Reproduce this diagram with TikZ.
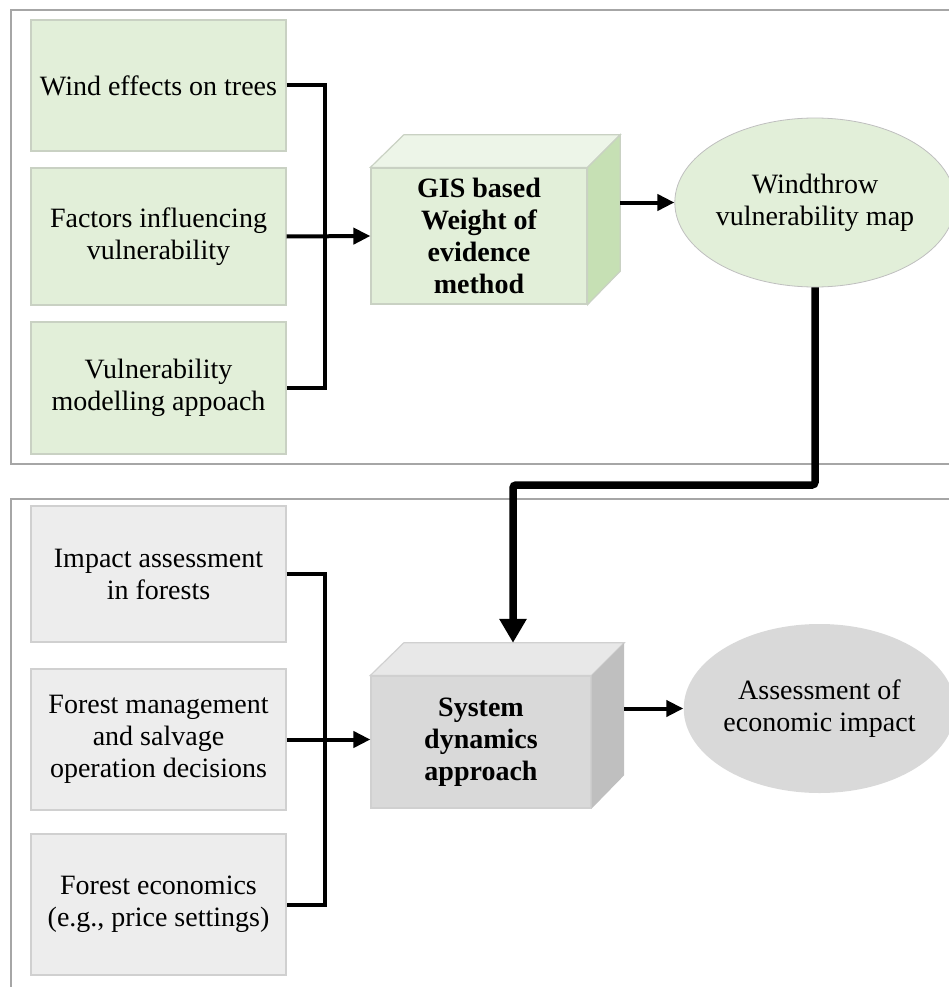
\documentclass[tikz,border=0pt]{standalone}
\usepackage{fontspec}
\setmainfont{Liberation Serif}
\usetikzlibrary{arrows.meta,shapes.geometric}

\definecolor{gfill}{HTML}{E2EFD9}
\definecolor{gtop}{HTML}{EDF5E8}
\definecolor{gside}{HTML}{C6E0B4}
\definecolor{gline}{HTML}{C9D1C3}
\definecolor{kfill}{HTML}{EDEDED}
\definecolor{kfront}{HTML}{D9D9D9}
\definecolor{ktop}{HTML}{E8E8E8}
\definecolor{kside}{HTML}{BFBFBF}
\definecolor{kline}{HTML}{D0D0D0}
\definecolor{framegray}{HTML}{A6A6A6}

\begin{document}
\begin{tikzpicture}[x=1pt,y=-1pt,
  txt/.style={font=\fontsize{28}{32}\selectfont, align=center},
  inbox/.style={txt, rectangle, draw, line width=1.2pt, inner sep=0pt, minimum width=255pt},
  greenbox/.style={inbox, fill=gfill, draw=gline},
  graybox/.style={inbox, fill=kfill, draw=kline},
  cubeface/.style={txt, rectangle, draw, line width=1.2pt, inner sep=0pt, font=\fontsize{28}{32}\selectfont\bfseries},
  cubeback/.style={rectangle, inner sep=0pt},
  blob/.style={txt, ellipse, inner sep=0pt, line width=0.8pt},
  link/.style={line width=4pt},
  flow/.style={line width=4pt, -{Triangle[length=17pt,width=16pt]}},
  bigflow/.style={line width=7.5pt, rounded corners=3pt, -{Triangle[length=24pt,width=26pt]}},
  frame/.style={draw=framegray, line width=1.5pt}]
\useasboundingbox (0,0) rectangle (949,987);

% section frames
\draw[frame] (949,10) -- (11,10) -- (11,464) -- (949,464);
\draw[frame] (949,499) -- (11,499) -- (11,987);

% upper section: inputs
\node[greenbox, minimum height=131pt] (w1) at (158.5,85.5) {Wind effects on trees};
\node[greenbox, minimum height=137pt] (w2) at (158.5,236.5) {Factors influencing\\vulnerability};
\node[greenbox, minimum height=132pt] (w3) at (158.5,388) {Vulnerability\\modelling appoach};

% upper section: method cube
\node[cubeback, minimum width=216pt, minimum height=136pt] (gisb) at (512,203) {};
\node[cubeface, fill=gfill, draw=gline, minimum width=216pt, minimum height=136pt] (gis) at (479,236)
  {GIS based\\Weight of\\evidence\\method};
\filldraw[fill=gtop, draw=gline, line width=1.2pt] (gis.north west) -- (gisb.north west) -- (gisb.north east) -- (gis.north east) -- cycle;
\filldraw[fill=gside, draw=gline, line width=1.2pt] (gis.north east) -- (gisb.north east) -- (gisb.south east) -- (gis.south east) -- cycle;

\node[blob, fill=gfill, draw=kside, minimum width=254pt, minimum height=169pt] (wt) at (815,202.5)
  {Windthrow\\vulnerability map};

% lower section: inputs
\node[graybox, minimum height=136pt] (i1) at (158.5,574) {Impact assessment\\in forests};
\node[graybox, minimum height=141pt] (i2) at (158.5,739.5) {Forest management\\and salvage\\operation decisions};
\node[graybox, minimum height=141pt] (i3) at (158.5,904.5) {Forest economics\\(e.g., price settings)};

% lower section: model cube
\node[cubeback, minimum width=220pt, minimum height=132pt] (sysb) at (514,709) {};
\node[cubeface, fill=kfront, draw=kline, minimum width=220pt, minimum height=132pt] (sys) at (481,742)
  {System\\dynamics\\approach};
\filldraw[fill=ktop, draw=kline, line width=1.2pt] (sys.north west) -- (sysb.north west) -- (sysb.north east) -- (sys.north east) -- cycle;
\fill[kside] (sys.north east) -- (sysb.north east) -- (sysb.south east) -- (sys.south east) -- cycle;

\node[blob, fill=kfront, minimum width=263pt, minimum height=169pt] (as) at (819.5,708.5)
  {Assessment of\\economic impact};

% upper connectors
\coordinate (jt) at (325,86);
\draw[link] (w1.east) -- (w1.east -| jt) -- (w3.east -| jt) -- (w3.east);
\draw[flow] (w2.east) -- (gis.west);
\draw[flow] (wt.west -| gisb.east) -- (wt.west);

% lower connectors
\coordinate (jb) at (325,574);
\draw[link] (i1.east) -- (i1.east -| jb) -- (i3.east -| jb) -- (i3.east);
\draw[flow] (i2.east) -- (i2.east -| sys.west);
\draw[flow] (as.west -| sysb.east) -- (as.west);

% link between the two sections
\coordinate (kb) at (513,485);
\draw[bigflow] (wt.south) |- (kb) -- (kb |- sysb.north);
\end{tikzpicture}
\end{document}
